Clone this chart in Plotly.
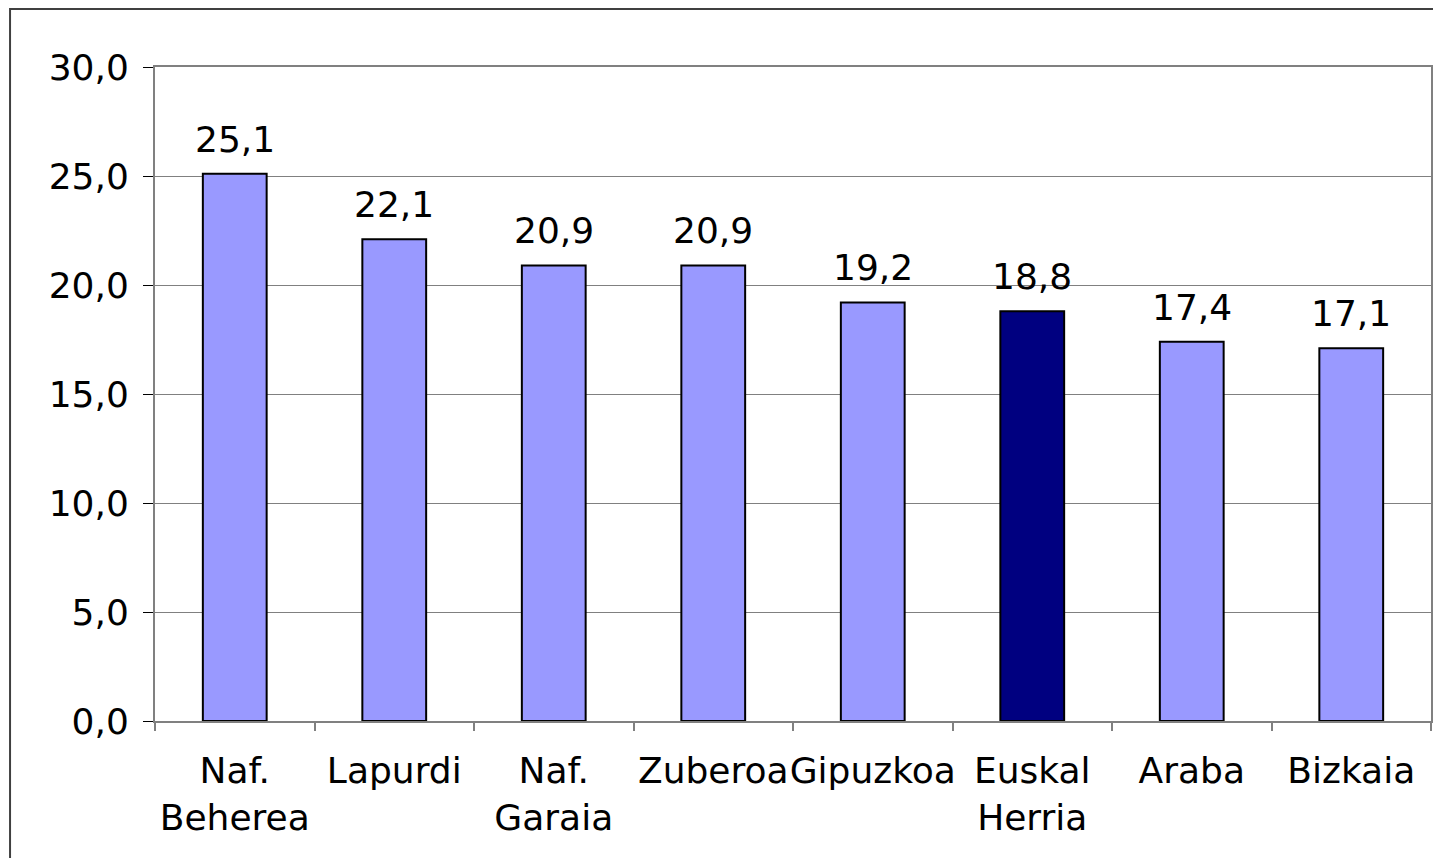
import plotly.graph_objects as go

categories = ["Naf.<br>Beherea", "Lapurdi", "Naf.<br>Garaia", "Zuberoa", "Gipuzkoa", "Euskal<br>Herria", "Araba", "Bizkaia"]
values = [25.1, 22.1, 20.9, 20.9, 19.2, 18.8, 17.4, 17.1]
labels = ["25,1", "22,1", "20,9", "20,9", "19,2", "18,8", "17,4", "17,1"]
colors = ["#9999FF"] * 5 + ["#000080"] + ["#9999FF"] * 2
y_ticks = [0, 5, 10, 15, 20, 25, 30]

FONT = "DejaVu Sans, Verdana, sans-serif"
FS = 36

fig = go.Figure(go.Bar(
    x=categories, y=values,
    marker=dict(color=colors, line=dict(color="black", width=2)),
    width=0.4,
))

for c, v, t in zip(categories, values, labels):
    fig.add_annotation(x=c, y=v, text=t, showarrow=False, yanchor="bottom",
                       yshift=13, borderpad=0,
                       font=dict(family=FONT, size=FS, color="black"))

# page has 8px body margin; figure sized to fit inside the window
W, H = 1425, 850
fig.update_layout(
    width=W, height=H,
    margin=dict(l=147, r=2, t=59, b=137, autoexpand=False),
    paper_bgcolor="white", plot_bgcolor="white",
    separators=",.",
    showlegend=False,
    font=dict(family=FONT, size=FS, color="black"),
    shapes=[dict(type="rect", xref="paper", yref="paper",
                 x0=-0.1136, x1=1.2, y0=-0.4, y1=1.0887,
                 line=dict(color="#404040", width=2), fillcolor="rgba(0,0,0,0)", layer="below")],
)
fig.update_yaxes(
    range=[0, 30], tickvals=y_ticks, tickformat=".1f",
    showgrid=True, gridcolor="#808080", gridwidth=1,
    showline=True, linecolor="#808080", linewidth=2, mirror=True,
    ticks="outside", ticklen=10, tickcolor="black", tickwidth=1,
    tickfont=dict(family=FONT, size=FS, color="black"),
    zeroline=False, automargin=False,
    ticklabelstandoff=7,
)
fig.update_xaxes(
    type="category", tickson="boundaries",
    showline=True, linecolor="#808080", linewidth=2, mirror=True,
    ticks="outside", ticklen=8, tickcolor="#808080", tickwidth=2,
    tickfont=dict(family=FONT, size=FS, color="black"),
    tickangle=0, automargin=False,
    ticklabelstandoff=17,
)

fig.write_html("out.html")
